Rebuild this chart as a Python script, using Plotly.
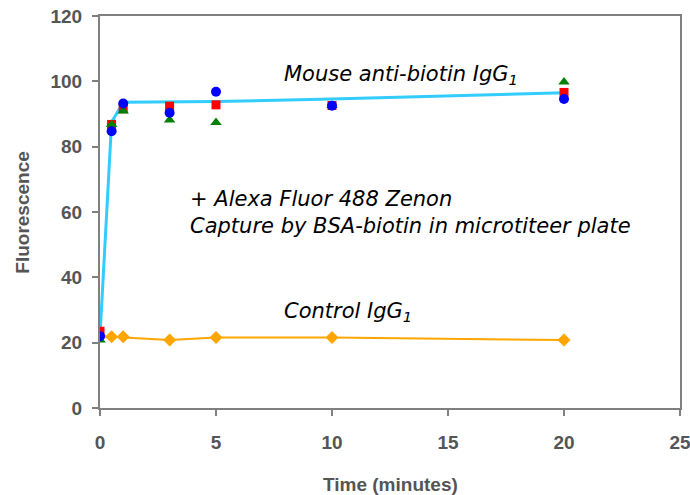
import plotly.graph_objects as go

# Time points (minutes)
time = [0, 0.5, 1, 3, 5, 10, 20]

# Mouse anti-biotin IgG1 replicates
mouse_blue = [22, 84.7, 93.2, 90.4, 96.8, 92.5, 94.6]
mouse_red = [23.5, 86.8, 91.6, 92.4, 92.8, 92.6, 96.6]
mouse_green = [20.8, 86.8, 90.9, 88.2, 87.4, 92.6, 99.8]

# Fitted curve for mouse anti-biotin IgG1
fit_time = [0, 0.5, 1, 3, 5, 10, 20]
fit_values = [22, 87.5, 93.6, 93.7, 93.8, 94.6, 96.5]

# Control IgG1
control = [22, 21.8, 21.8, 20.8, 21.6, 21.6, 20.8]

x_ticks = [0, 5, 10, 15, 20, 25]
y_ticks = [0, 20, 40, 60, 80, 100, 120]

fig = go.Figure()

fig.add_trace(go.Scatter(x=fit_time, y=fit_values, mode="lines",
                         line=dict(color="#33CCFF", width=3), showlegend=False))
fig.add_trace(go.Scatter(x=time, y=control, mode="lines+markers",
                         line=dict(color="#FFA500", width=2),
                         marker=dict(symbol="diamond", size=10, color="#FFA500"),
                         showlegend=False))
fig.add_trace(go.Scatter(x=time, y=mouse_red, mode="markers",
                         marker=dict(symbol="square", size=9, color="#FF0000"),
                         showlegend=False))
fig.add_trace(go.Scatter(x=time, y=mouse_green, mode="markers",
                         marker=dict(symbol="triangle-up", size=10, color="#008000"),
                         showlegend=False))
fig.add_trace(go.Scatter(x=time, y=mouse_blue, mode="markers",
                         marker=dict(symbol="circle", size=10, color="#0000FF"),
                         showlegend=False))

tick_font = dict(family="Liberation Sans", size=19, color="#555555", weight="bold")
axis_common = dict(showgrid=False, zeroline=False, showline=True, mirror=True,
                   linecolor="#808080", linewidth=2, ticks="outside", ticklen=6,
                   tickcolor="#808080", tickwidth=2, tickfont=tick_font, automargin=False,
                   ticklabeloverflow="allow")

fig.update_xaxes(range=[0, 25], tickvals=x_ticks, ticklabelstandoff=10, **axis_common)
fig.update_yaxes(range=[0, 120], tickvals=y_ticks, ticklabelstandoff=6, **axis_common)

ann_font = dict(family="DejaVu Sans", size=21, color="#000000", style="italic")
fig.add_annotation(x=7.85, y=102.0, xref="x", yref="y", xanchor="left", yanchor="middle",
                   text="Mouse anti-biotin IgG<sub>1</sub>", showarrow=False, font=ann_font)
fig.add_annotation(x=3.8, y=59.9, xref="x", yref="y", xanchor="left", yanchor="middle",
                   text="+ Alexa Fluor 488 Zenon<br>Capture by BSA-biotin in microtiteer plate",
                   align="left", showarrow=False, font=ann_font)
fig.add_annotation(x=7.85, y=29.4, xref="x", yref="y", xanchor="left", yanchor="middle",
                   text="Control IgG<sub>1</sub>", showarrow=False, font=ann_font)

title_font = dict(family="Liberation Sans", size=19, color="#555555", weight="bold")
fig.add_annotation(x=0.5, y=-0.195, xref="paper", yref="paper", xanchor="center", yanchor="middle",
                   text="Time (minutes)", showarrow=False, font=title_font)
fig.add_annotation(x=-0.135, y=0.5, xref="paper", yref="paper", xanchor="center", yanchor="middle",
                   text="Fluorescence", textangle=-90, showarrow=False, font=title_font)

fig.update_layout(width=690, height=495, plot_bgcolor="white", paper_bgcolor="white",
                  margin=dict(l=100, r=10, t=16, b=87))

fig.write_html("out.html", config={"displayModeBar": False},
               post_script="document.body.style.margin='0';document.body.style.overflow='hidden';")
